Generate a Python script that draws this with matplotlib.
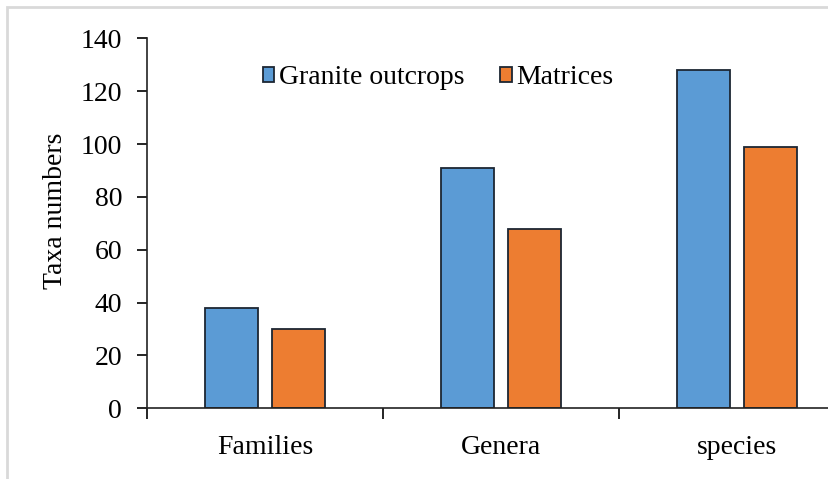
import numpy as np
import matplotlib
matplotlib.use("Agg")
import matplotlib.pyplot as plt
from matplotlib.patches import Rectangle

# taxa counts per rank
ranks = ["Families", "Genera", "species"]
granite = [38, 91, 128]
matrices = [30, 68, 99]
series_names = ["Granite outcrops", "Matrices"]
y_ticks = [0, 20, 40, 60, 80, 100, 120, 140]

plt.rcParams["font.family"] = ["Liberation Serif", "DejaVu Serif"]
FS = 20

W, H = 829, 479
fig = plt.figure(figsize=(W / 100, H / 100), dpi=100)

# light grey frame round the chart area
fig.add_artist(Rectangle((7 / W, -0.1), 1.2, 1 - 7 / H + 0.1, transform=fig.transFigure,
                         fill=False, edgecolor="#d9d9d9", linewidth=2))

ax = fig.add_axes([147 / W, (H - 408.3) / H, 708 / W, 370 / H])

x = np.arange(len(ranks))
w = 0.224
off = 0.143
ax.bar(x - off, granite, w, color="#5b9bd5", edgecolor="#1c2633", linewidth=1.3,
       label=series_names[0], zorder=2)
ax.bar(x + off, matrices, w, color="#ed7d31", edgecolor="#1c2633", linewidth=1.3,
       label=series_names[1], zorder=2)

ax.set_xlim(-0.5, 2.5)
ax.set_ylim(0, 140)
ax.set_yticks(y_ticks)
ax.tick_params(axis="y", direction="out", length=7, width=1.2, labelsize=FS, pad=11)

# category boundaries get the ticks, labels sit in the middle
ax.set_xticks([-0.5, 0.5, 1.5, 2.5])
ax.set_xticklabels([])
ax.tick_params(axis="x", which="major", direction="out", length=8, width=1.2)
ax.set_xticks(x, minor=True)
ax.set_xticklabels(ranks, minor=True)
ax.tick_params(axis="x", which="minor", length=0, labelsize=FS, pad=19)

for s in ["top", "right"]:
    ax.spines[s].set_visible(False)
for s in ["left", "bottom"]:
    ax.spines[s].set_linewidth(1.2)
    ax.spines[s].set_color("#222222")

ax.set_ylabel("Taxa numbers", fontsize=FS)
ax.yaxis.set_label_coords(-0.112, 0.535)

ax.legend(loc="center", bbox_to_anchor=(0.411, 0.893), ncol=2, frameon=False,
          fontsize=FS, handlelength=0.42, handleheight=0.42, handletextpad=0.15,
          columnspacing=1.3, borderpad=0, borderaxespad=0)

fig.savefig("out.png", dpi=100)
